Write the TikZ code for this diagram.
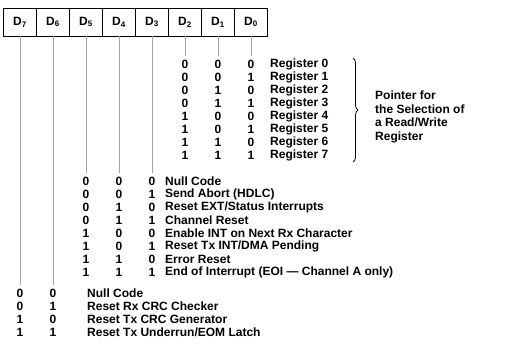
\documentclass[tikz,border=0pt]{standalone}
\usepackage{fontspec}
\setmainfont{Liberation Sans}
\usetikzlibrary{positioning,decorations.pathreplacing}

\begin{document}
\begin{tikzpicture}[x=1pt,y=-1pt,
        every node/.style={font=\fontsize{12}{13.5}\selectfont\bfseries, inner sep=0pt},
        bitbox/.style={rectangle,draw,line width=0.9pt,outer sep=0pt,minimum width=33pt,minimum height=28pt},
        bitline/.style={gray!70,line width=0.6pt},
        cmd/.style={anchor=west}]
        \useasboundingbox (0,0) rectangle (527,352);
        % register bits
        \node (d7) [bitbox] at (20,22) {D\textsubscript{7}};
        \node (d6) [bitbox, right=0pt of d7] {D\textsubscript{6}};
        \node (d5) [bitbox, right=0pt of d6] {D\textsubscript{5}};
        \node (d4) [bitbox, right=0pt of d5] {D\textsubscript{4}};
        \node (d3) [bitbox, right=0pt of d4] {D\textsubscript{3}};
        \node (d2) [bitbox, right=0pt of d3] {D\textsubscript{2}};
        \node (d1) [bitbox, right=0pt of d2] {D\textsubscript{1}};
        \node (d0) [bitbox, right=0pt of d1] {D\textsubscript{0}};
        % lines down to the codes
        \coordinate (e7) at (d7.south |- 0,285);
        \coordinate (e6) at (d6.south |- 0,285);
        \coordinate (e5) at (d5.south |- 0,173);
        \coordinate (e4) at (d4.south |- 0,173);
        \coordinate (e3) at (d3.south |- 0,173);
        \coordinate (e2) at (d2.south |- 0,56);
        \coordinate (e1) at (d1.south |- 0,56);
        \coordinate (e0) at (d0.south |- 0,56);
        \foreach \b in {0,...,7}
            \draw[bitline] (d\b.south) -- (e\b);
        % register pointer
        \foreach \i in {0,...,7}{
            \pgfmathtruncatemacro\ba{\i/4}
            \pgfmathtruncatemacro\bb{mod(\i,4)/2}
            \pgfmathtruncatemacro\bc{mod(\i,2)}
            \node (p2\i) at (d2.center |- 0,{64+13*\i}) {\ba};
            \node (p1\i) at (d1.center |- 0,{64+13*\i}) {\bb};
            \node (p0\i) at (d0.center |- 0,{64+13*\i}) {\bc};
            \node (reg\i) [cmd] at (270,{64+13*\i}) {Register \i};
        }
        \draw[line width=0.8pt, decoration={brace,amplitude=5pt}, decorate]
            (353,58) -- (353,162);
        \node (ptr) [cmd, align=left] at (375,117)
            {Pointer for\\the Selection of\\a Read/Write\\Register};
        % command codes
        \foreach \txt [count=\j from 0] in {Null Code, Send Abort (HDLC),
                Reset EXT/Status Interrupts, Channel Reset,
                Enable INT on Next Rx Character, Reset Tx INT/DMA Pending,
                Error Reset, End of Interrupt (EOI — Channel A only)}{
            \pgfmathtruncatemacro\ba{\j/4}
            \pgfmathtruncatemacro\bb{mod(\j,4)/2}
            \pgfmathtruncatemacro\bc{mod(\j,2)}
            \node (c5\j) at (d5.center |- 0,{181+13*\j}) {\ba};
            \node (c4\j) at (d4.center |- 0,{181+13*\j}) {\bb};
            \node (c3\j) at (d3.center |- 0,{181+13*\j}) {\bc};
            \node (cmd\j) [cmd] at (165,{181+13*\j}) {\txt};
        }
        % CRC reset codes
        \foreach \txt [count=\k from 0] in {Null Code, Reset Rx CRC Checker,
                Reset Tx CRC Generator, Reset Tx Underrun/EOM Latch}{
            \pgfmathtruncatemacro\ba{\k/2}
            \pgfmathtruncatemacro\bb{mod(\k,2)}
            \node (r7\k) at (d7.center |- 0,{293+13*\k}) {\ba};
            \node (r6\k) at (d6.center |- 0,{293+13*\k}) {\bb};
            \node (crc\k) [cmd] at (87,{293+13*\k}) {\txt};
        }
    \end{tikzpicture}
\end{document}
